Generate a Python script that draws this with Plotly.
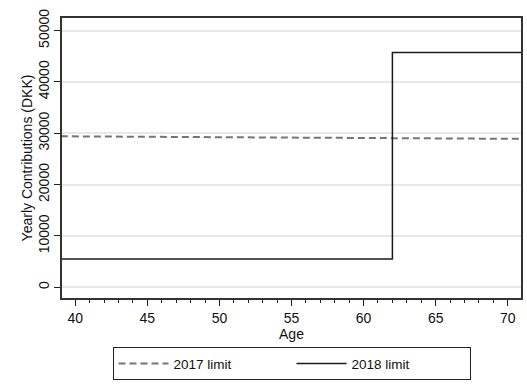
import plotly.graph_objects as go

# Data
ages_2017 = [39, 71]
limit_2017 = [29400, 28900]

ages_2018 = [39, 62, 71]
limit_2018 = [5500, 45700, 45700]

x_ticks = [40, 45, 50, 55, 60, 65, 70]
y_ticks = [0, 10000, 20000, 30000, 40000, 50000]

FONT = "Liberation Sans, Arial, Helvetica, sans-serif"

fig = go.Figure()
fig.add_trace(go.Scatter(
    x=ages_2017, y=limit_2017, mode="lines", name="2017 limit",
    line=dict(color="#757575", width=2, dash="7px,4px"),
))
fig.add_trace(go.Scatter(
    x=ages_2018, y=limit_2018, mode="lines", name="2018 limit",
    line=dict(color="#1a1a1a", width=1.5, shape="hv"),
))

fig.update_layout(
    width=527, height=386,
    margin=dict(l=62, r=6, t=18, b=88, autoexpand=False),
    paper_bgcolor="white", plot_bgcolor="white",
    font=dict(family=FONT, size=14, color="#111"),
    showlegend=True,
    legend=dict(
        orientation="h", x=0.5, xanchor="center", y=-0.176, yanchor="top",
        bordercolor="#222", borderwidth=1, font=dict(size=13.5),
        entrywidth=113, itemwidth=50, tracegroupgap=0,
    ),
    xaxis=dict(
        range=[39.08, 70.92], tickvals=x_ticks, ticks="outside", ticklen=6,
        tickcolor="#222", showgrid=False, zeroline=False, automargin=False,
        showline=True, mirror=True, linecolor="#333", linewidth=1.5,
        minor=dict(dtick=1, ticks="outside", ticklen=3, tickcolor="#222", showgrid=False),
        title=dict(text="Age", standoff=2, font=dict(size=14)),
        tickfont=dict(size=14),
    ),
    yaxis=dict(
        range=[-2086, 52437], tickvals=y_ticks, tickformat="d", ticks="outside", ticklen=6,
        tickcolor="#222", tickangle=-90, automargin=False,
        showgrid=True, gridcolor="#e8e8e8", gridwidth=1.5, zeroline=False,
        showline=True, mirror=True, linecolor="#333", linewidth=1.5,
        title=dict(text="Yearly Contributions (DKK)", standoff=0, font=dict(size=14)),
        tickfont=dict(size=14),
    ),
)

fig.write_html(
    "out.html",
    config={"displayModeBar": False},
    post_script="document.body.style.margin='0';document.body.style.overflow='hidden';",
)
